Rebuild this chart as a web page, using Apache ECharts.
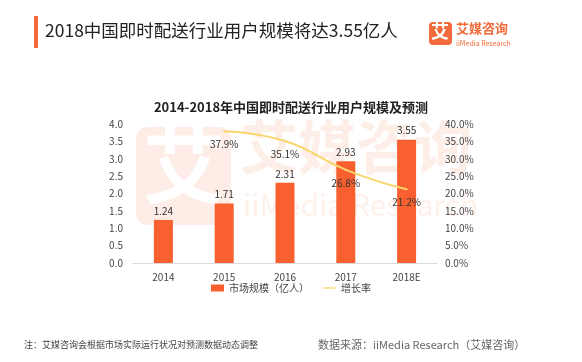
<!DOCTYPE html>
<html><head><meta charset="utf-8">
<script src="https://cdn.jsdelivr.net/npm/echarts@6/dist/echarts.min.js"></script>
<style>html,body{margin:0;padding:0;background:#fff}#c{width:582px;height:362px}</style>
</head><body><div id="c"></div>
<script>
const categories = ['2014', '2015', '2016', '2017', '2018E'];
const marketSize = [1.24, 1.71, 2.31, 2.93, 3.55];
const growthRate = [null, 37.9, 35.1, 26.8, 21.2];
const leftTicks = {min: 0, max: 4, interval: 0.5};
const rightTicks = {min: 0, max: 40, interval: 5};

const FONT = '"Noto Sans CJK SC", "Noto Sans", sans-serif';
const chart = echarts.init(document.getElementById('c'), null, {renderer: 'canvas'});
chart.setOption({
  animation: false,
  textStyle: {fontFamily: FONT},
  title: {
    text: '2014-2018年中国即时配送行业用户规模及预测',
    left: 'center', top: 96,
    textStyle: {fontSize: 13, fontWeight: 'bold', color: '#222', fontFamily: FONT}
  },
  graphic: [
    {type: 'rect', left: 34, top: 16, shape: {width: 4, height: 32}, style: {fill: '#F26B3A'}},
    {type: 'text', left: 45, top: 22, style: {text: '2018中国即时配送行业用户规模将达3.55亿人', font: '17.5px ' + FONT, fill: '#222'}},
    {type: 'rect', left: 429, top: 22, shape: {width: 23, height: 23, r: 4}, style: {fill: '#F26B3A'}},
    {type: 'text', left: 431, top: 22, style: {text: '艾', font: 'bold 18px ' + FONT, fill: '#fff'}},
    {type: 'text', left: 456, top: 22, style: {text: '艾媒咨询', font: 'bold 13px ' + FONT, fill: '#F26B3A'}},
    {type: 'text', left: 456, top: 40, style: {text: 'iiMedia Research', font: '7px ' + FONT, fill: '#F26B3A'}},
    {type: 'rect', z: -10, left: 136, top: 127, shape: {width: 95, height: 98, r: 12}, style: {fill: '#FEEDE6'}},
    {type: 'text', z: -9, left: 143, top: 125, style: {text: '艾', font: 'bold 82px ' + FONT, fill: '#ffffff'}},
    {type: 'text', z: -10, left: 240, top: 118, style: {text: '艾媒咨询', font: 'bold 58px ' + FONT, fill: '#FEEEE8'}},
    {type: 'text', z: -10, left: 243, top: 190, style: {text: 'iiMedia Research', font: '30px ' + FONT, fill: '#FEF0EA'}},
    {type: 'text', left: 24, top: 340, style: {text: '注：艾媒咨询会根据市场实际运行状况对预测数据动态调整', font: '9px ' + FONT, fill: '#444'}},
    {type: 'text', left: 318, top: 339, style: {text: '数据来源：iiMedia Research（艾媒咨询）', font: '11px ' + FONT, fill: '#666'}}
  ],
  legend: {
    bottom: 64, left: 'center',
    itemWidth: 13, itemHeight: 7, itemGap: 14,
    textStyle: {fontSize: 10, color: '#444', fontFamily: FONT},
    data: [{name: '市场规模（亿人）', icon: 'rect'},
           {name: '增长率', icon: 'path://M0,0 L20,0 L20,2 L0,2 Z', itemStyle: {color: '#F9D66B', opacity: 1}}]
  },
  grid: {left: 133, right: 145, top: 124, bottom: 99},
  xAxis: {
    type: 'category', data: categories,
    axisLine: {lineStyle: {color: '#D9D9D9'}},
    axisTick: {show: false},
    axisLabel: {color: '#444', fontSize: 10, margin: 9}
  },
  yAxis: [
    {type: 'value', min: leftTicks.min, max: leftTicks.max, interval: leftTicks.interval,
     splitLine: {show: false}, axisLine: {show: false}, axisTick: {show: false},
     axisLabel: {color: '#444', fontSize: 10, margin: 10, formatter: v => v.toFixed(1)}},
    {type: 'value', min: rightTicks.min, max: rightTicks.max, interval: rightTicks.interval,
     splitLine: {show: false}, axisLine: {show: false}, axisTick: {show: false},
     axisLabel: {color: '#444', fontSize: 10, margin: 8, formatter: v => v.toFixed(1) + '%'}}
  ],
  series: [
    {name: '市场规模（亿人）', type: 'bar', data: marketSize, barWidth: 19,
     itemStyle: {color: '#F8612F'},
     label: {show: true, position: 'top', distance: 4, color: '#333', fontSize: 10, formatter: p => p.value.toFixed(2)}},
    {name: '增长率', type: 'line', yAxisIndex: 1, data: growthRate, smooth: 0.5,
     showSymbol: true, symbol: 'circle', symbolSize: 2, connectNulls: false,
     lineStyle: {color: '#F9D66B', width: 2}, itemStyle: {color: '#F9D66B'},
     label: {show: true, position: 'bottom', distance: 7, color: '#333', fontSize: 10, formatter: p => p.value.toFixed(1) + '%'}}
  ]
});
</script></body></html>
